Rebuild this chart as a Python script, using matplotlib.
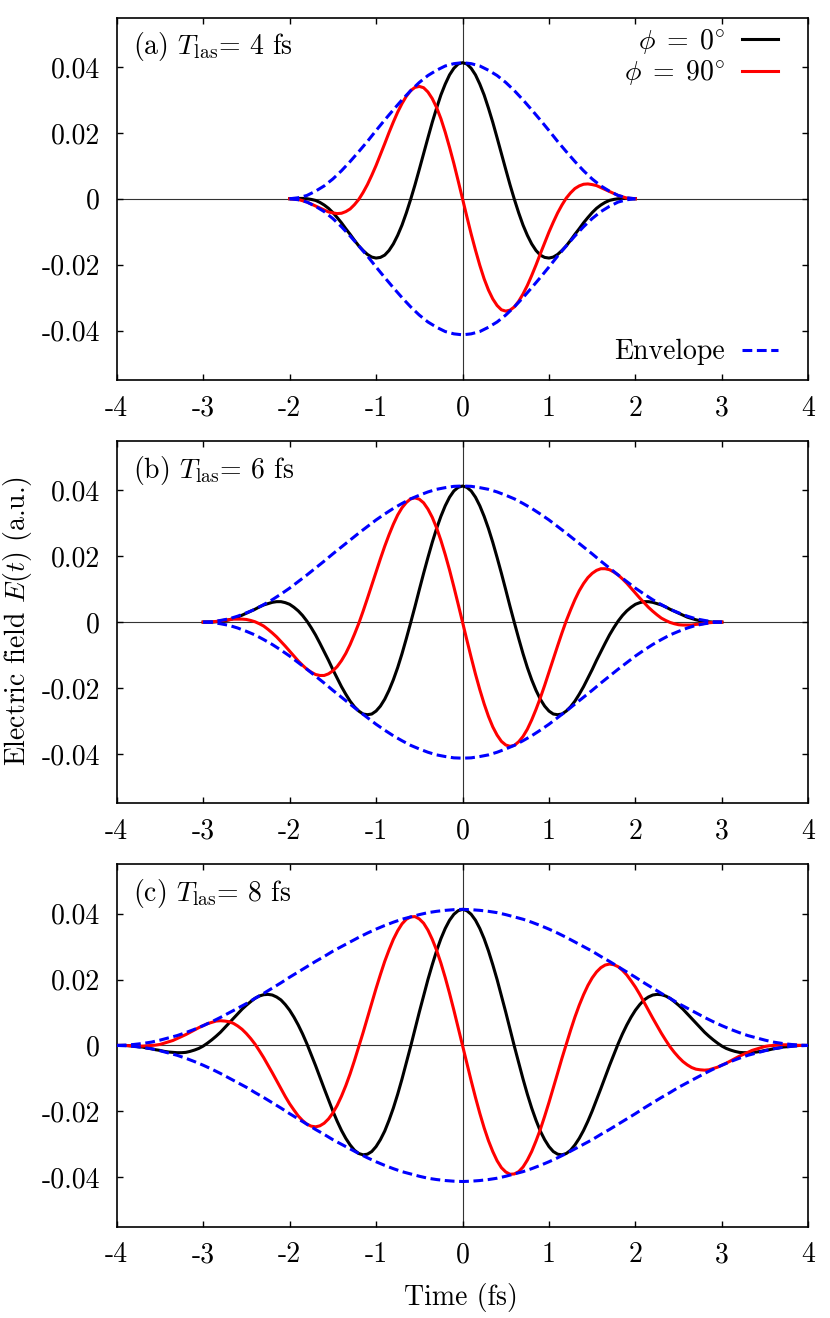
import numpy as np
import matplotlib
matplotlib.use("Agg")
import matplotlib.pyplot as plt

plt.rcParams['font.family'] = 'serif'
plt.rcParams['font.serif'] = ['cmr10']
plt.rcParams['mathtext.fontset'] = 'cm'
plt.rcParams['axes.unicode_minus'] = False
plt.rcParams['font.size'] = 20

# all field values, in units of 1e-4 a.u.
# envelopes are sampled every 0.1 fs, the two carrier phases every 0.05 fs

# panel (a): T_las = 4 fs, t = -2 .. 2
env_a = [0, 3, 10, 23, 39, 60, 85, 113, 143, 174, 207, 239, 270, 300, 328, 353, 374, 390, 403, 410,
         413,
         410, 403, 390, 374, 353, 328, 300, 270, 239, 207, 174, 143, 113, 85, 60, 39, 23, 10, 3, 0]
phi0_a = [0, 0, 1, 1, 0, -2, -5, -11, -19, -29, -42, -57, -73, -91, -108, -126, -143, -157, -169, -177,
          -180, -178, -171, -157, -137, -111, -80, -43, -2, 42, 89, 137, 185, 232, 275, 315, 348, 376, 396, 409,
          413, 409, 396, 376, 348, 315, 275, 232, 185, 137, 89, 42, -2, -43, -80, -111, -137, -157, -171, -178,
          -180, -177, -169, -157, -143, -126, -108, -91, -73, -57, -42, -29, -19, -11, -5, -2, 0, 1, 1, 0,
          0]
phi90_a = [0, -1, -2, -6, -10, -16, -22, -28, -34, -40, -43, -45, -44, -39, -31, -18, -2, 19, 43, 71,
           101, 134, 167, 201, 233, 263, 289, 311, 328, 338, 341, 337, 324, 304, 277, 243, 202, 156, 107, 54,
           0, -54, -107, -156, -202, -243, -277, -304, -324, -337, -341, -338, -328, -311, -289, -263, -233, -201, -167, -134,
           -101, -71, -43, -19, 2, 18, 31, 39, 44, 45, 43, 40, 34, 28, 22, 16, 10, 6, 2, 1,
           0]

# panel (b): T_las = 6 fs, t = -3 .. 3
env_b = [0, 1, 5, 10, 18, 28, 39, 53, 68, 85, 103, 123, 143, 164, 185, 207, 228, 249, 270, 290,
         310, 328, 345, 360, 374, 385, 395, 403, 408, 412,
         413,
         412, 408, 403, 395, 385, 374, 360, 345, 328, 310, 290, 270, 249, 228, 207, 185, 164, 143, 123,
         103, 85, 68, 53, 39, 28, 18, 10, 5, 1, 0]
phi0_b = [0, 0, 0, 1, 2, 4, 7, 11, 15, 21, 27, 33, 39, 46, 52, 56, 60, 62, 62, 59,
          54, 45, 34, 20, 3, -17, -39, -64, -90, -116, -144, -170, -196, -219, -240, -257, -270, -279, -281, -279,
          -270, -255, -234, -207, -175, -138, -96, -50, -2, 47, 98, 148, 196, 242, 284, 321, 353, 379, 398, 409,
          413, 409, 398, 379, 353, 321, 284, 242, 196, 148, 98, 47, -2, -50, -96, -138, -175, -207, -234, -255,
          -270, -279, -281, -279, -270, -257, -240, -219, -196, -170, -144, -116, -90, -64, -39, -17, 3, 20, 34, 45,
          54, 59, 62, 62, 60, 56, 52, 46, 39, 33, 27, 21, 15, 11, 7, 4, 2, 1, 0, 0,
          0]
phi90_b = [0, 0, 1, 2, 4, 6, 7, 9, 9, 9, 8, 5, 1, -5, -12, -22, -33, -45, -59, -73,
           -88, -103, -118, -131, -143, -152, -159, -162, -162, -157, -148, -135, -117, -95, -68, -37, -4, 33, 72, 112,
           152, 192, 230, 265, 297, 325, 347, 363, 374, 377, 373, 362, 343, 318, 286, 248, 205, 158, 107, 54,
           0, -54, -107, -158, -205, -248, -286, -318, -343, -362, -373, -377, -374, -363, -347, -325, -297, -265, -230, -192,
           -152, -112, -72, -33, 4, 37, 68, 95, 117, 135, 148, 157, 162, 162, 159, 152, 143, 131, 118, 103,
           88, 73, 59, 45, 33, 22, 12, 5, -1, -5, -8, -9, -9, -9, -7, -6, -4, -2, -1, 0,
           0]

# panel (c): T_las = 8 fs, t = -4 .. 4
env_c = [0, 1, 3, 6, 10, 16, 23, 30, 39, 49, 60, 72, 85, 99, 113, 127, 143, 158, 174, 190,
         207, 223, 239, 255, 270, 286, 300, 314, 328, 341, 353, 364, 374, 383, 390, 397, 403, 407, 410, 412,
         413,
         412, 410, 407, 403, 397, 390, 383, 374, 364, 353, 341, 328, 314, 300, 286, 270, 255, 239, 223,
         207, 190, 174, 158, 143, 127, 113, 99, 85, 72, 60, 49, 39, 30, 23, 16, 10, 6, 3, 1, 0]
phi0_c = [0, 0, 0, -1, -2, -4, -5, -8, -10, -13, -15, -18, -20, -21, -22, -22, -21, -18, -14, -9,
          -2, 7, 17, 28, 40, 54, 68, 82, 96, 110, 122, 133, 143, 150, 154, 155, 153, 147, 138, 124,
          107, 86, 62, 35, 5, -28, -61, -96, -131, -165, -199, -230, -258, -282, -302, -318, -328, -332, -330, -322,
          -307, -286, -260, -227, -190, -148, -102, -53, -3, 49, 101, 151, 200, 245, 287, 324, 355, 380, 398, 409,
          413, 409, 398, 380, 355, 324, 287, 245, 200, 151, 101, 49, -3, -53, -102, -148, -190, -227, -260, -286,
          -307, -322, -330, -332, -328, -318, -302, -282, -258, -230, -199, -165, -131, -96, -61, -28, 5, 35, 62, 86,
          107, 124, 138, 147, 153, 155, 154, 150, 143, 133, 122, 110, 96, 82, 68, 54, 40, 28, 17, 7,
          -2, -9, -14, -18, -21, -22, -22, -21, -20, -18, -15, -13, -10, -8, -5, -4, -2, -1, 0, 0,
          0]
phi90_c = [0, 0, 0, -1, -1, -2, -2, -1, 0, 1, 3, 7, 11, 15, 21, 27, 33, 40, 47, 54,
           60, 66, 70, 74, 75, 74, 72, 67, 59, 49, 36, 21, 4, -16, -37, -60, -83, -107, -131, -155,
           -177, -196, -214, -228, -239, -245, -247, -244, -236, -223, -205, -182, -154, -122, -86, -46, -4, 39, 84, 129,
           173, 215, 255, 290, 322, 348, 369, 383, 390, 391, 384, 371, 350, 322, 289, 250, 206, 158, 107, 54,
           0, -54, -107, -158, -206, -250, -289, -322, -350, -371, -384, -391, -390, -383, -369, -348, -322, -290, -255, -215,
           -173, -129, -84, -39, 4, 46, 86, 122, 154, 182, 205, 223, 236, 244, 247, 245, 239, 228, 214, 196,
           177, 155, 131, 107, 83, 60, 37, 16, -4, -21, -36, -49, -59, -67, -72, -74, -75, -74, -70, -66,
           -60, -54, -47, -40, -33, -27, -21, -15, -11, -7, -3, -1, 0, 1, 2, 2, 1, 1, 0, 0,
           0]

panels = [('(a)', 4, env_a, phi0_a, phi90_a),
          ('(b)', 6, env_b, phi0_b, phi90_b),
          ('(c)', 8, env_c, phi0_c, phi90_c)]

xticks = [-4, -3, -2, -1, 0, 1, 2, 3, 4]
xticklabels = ['-4', '-3', '-2', '-1', '0', '1', '2', '3', '4']
yticks = [-0.04, -0.02, 0, 0.02, 0.04]
yticklabels = ['-0.04', '-0.02', '0', '0.02', '0.04']

fig = plt.figure(figsize=(8.3, 13.18), dpi=100)
bottoms = [0.7117, 0.3905, 0.0693]
for k, (tag, T, env, e0, e90) in enumerate(panels):
    ax = fig.add_axes([0.1406, bottoms[k], 0.8333, 0.2750])
    env = np.array(env) * 1e-4
    e0 = np.array(e0) * 1e-4
    e90 = np.array(e90) * 1e-4
    t_env = np.linspace(-T / 2, T / 2, len(env))
    t = np.linspace(-T / 2, T / 2, len(e0))

    ax.axhline(0, color='0.2', lw=0.8, zorder=1)
    ax.axvline(0, color='0.2', lw=0.8, zorder=1)
    l0, = ax.plot(t, e0, color='black', lw=2.2, zorder=3, label=r'$\phi\;=\;0^{\circ}$')
    l90, = ax.plot(t, e90, color='#ff0000', lw=2.2, zorder=3, label=r'$\phi\;=\;90^{\circ}$')
    le, = ax.plot(t_env, env, color='#0000ff', lw=2.2, dashes=(3.2, 1.5), zorder=4, label='Envelope')
    ax.plot(t_env, -env, color='#0000ff', lw=2.2, dashes=(3.2, 1.5), zorder=4)

    ax.set_xlim(-4, 4)
    ax.set_ylim(-0.055, 0.055)
    ax.set_xticks(xticks)
    ax.set_xticklabels(xticklabels)
    ax.set_yticks(yticks)
    ax.set_yticklabels(yticklabels)
    ax.tick_params(direction='in', top=True, right=True, length=4.5, width=1.0)
    ax.tick_params(axis='x', pad=11)
    ax.tick_params(axis='y', pad=12)
    for s in ax.spines.values():
        s.set_linewidth(1.2)

    ax.text(0.023, 0.898, tag + r' $T_{\rm las}$= %d fs' % T, transform=ax.transAxes,
            ha='left', va='baseline')

    if k == 0:
        leg1 = ax.legend(handles=[l0, l90], loc='upper right', bbox_to_anchor=(0.956, 0.975),
                         frameon=False, markerfirst=False, handlelength=1.3, handletextpad=0.6,
                         borderaxespad=0, borderpad=0, labelspacing=0.1)
        ax.add_artist(leg1)
        ax.legend(handles=[le], loc='lower right', bbox_to_anchor=(0.956, 0.04),
                  frameon=False, markerfirst=False, handlelength=1.3, handletextpad=0.6,
                  borderaxespad=0, borderpad=0)

fig.text(0.0205, 0.5288, r'Electric field $E(t)$ (a.u.)', rotation=90, ha='center', va='center')
fig.text(0.5554, 0.0159, 'Time (fs)', ha='center', va='center')

fig.savefig('out.png', dpi=100)
